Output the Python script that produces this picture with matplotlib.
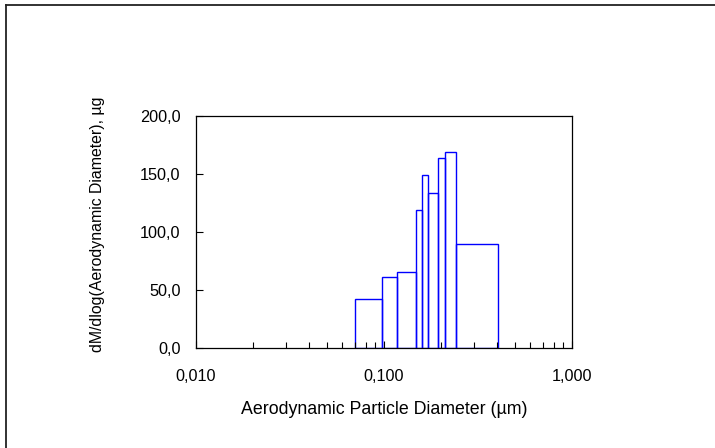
import numpy as np
import matplotlib
matplotlib.use("Agg")
import matplotlib.pyplot as plt
from matplotlib.ticker import FuncFormatter, LogLocator
from matplotlib.lines import Line2D

plt.rcParams['font.family'] = ['Liberation Sans', 'DejaVu Sans']

# Klassengrenzen (µm) und Werte dM/dlogD
bin_edges = [0.0703, 0.0973, 0.1168, 0.1475, 0.1598, 0.172, 0.1945, 0.2111, 0.2406, 0.4026]
dm_dlogd = [42.5, 61.5, 65.8, 118.7, 148.9, 133.9, 163.8, 169.2, 89.7]

x_ticks = [0.01, 0.1, 1.0]
y_ticks = [0, 50, 100, 150, 200]

fig = plt.figure(figsize=(7.15, 4.48), dpi=100)
ax = fig.add_axes([196/715, 1 - 348/448, 376/715, 232/448])

left = np.array(bin_edges[:-1])
widths = np.diff(bin_edges)
ax.bar(left, dm_dlogd, width=widths, align='edge', fill=False,
       edgecolor='#0000ff', linewidth=1.0)

ax.set_xscale('log')
ax.set_xlim(0.01, 1.0)
ax.set_ylim(0, 200)
ax.set_xticks(x_ticks)
ax.set_yticks(y_ticks)
ax.xaxis.set_minor_locator(LogLocator(base=10, subs=np.arange(2, 10)))
ax.xaxis.set_major_formatter(FuncFormatter(lambda v, p: f"{v:.3f}".replace('.', ',')))
ax.xaxis.set_minor_formatter(FuncFormatter(lambda v, p: ""))
ax.yaxis.set_major_formatter(FuncFormatter(lambda v, p: f"{v:.1f}".replace('.', ',')))

ax.tick_params(axis='both', which='major', direction='in', length=5, width=0.8,
               labelsize=11.7, color='black')
ax.tick_params(axis='x', which='major', pad=15)
ax.tick_params(axis='y', which='major', pad=11)
ax.tick_params(axis='x', which='minor', direction='in', length=4, width=0.8)
ax.tick_params(axis='y', which='minor', left=False)

for s in ax.spines.values():
    s.set_linewidth(0.9)
    s.set_color('black')

ax.set_xlabel('Aerodynamic Particle Diameter (µm)', fontsize=12.8)
ax.set_ylabel('dM/dlog(Aerodynamic Diameter), µg', fontsize=11.4)
ax.xaxis.set_label_coords(0.5, -0.267)
ax.xaxis.label.set_va('center')
ax.yaxis.set_label_coords(-0.262, 0.532)
ax.yaxis.label.set_va('center')

# Rahmen um das Diagramm (nur oben/links sichtbar)
fx = 5.5 / 715
fy = 1 - 5.5 / 448
fig.add_artist(Line2D([fx, 1.0], [fy, fy], transform=fig.transFigure, color='#222222', lw=1.3))
fig.add_artist(Line2D([fx, fx], [0.0, fy], transform=fig.transFigure, color='#222222', lw=1.3))

fig.savefig('out.png', dpi=100)
